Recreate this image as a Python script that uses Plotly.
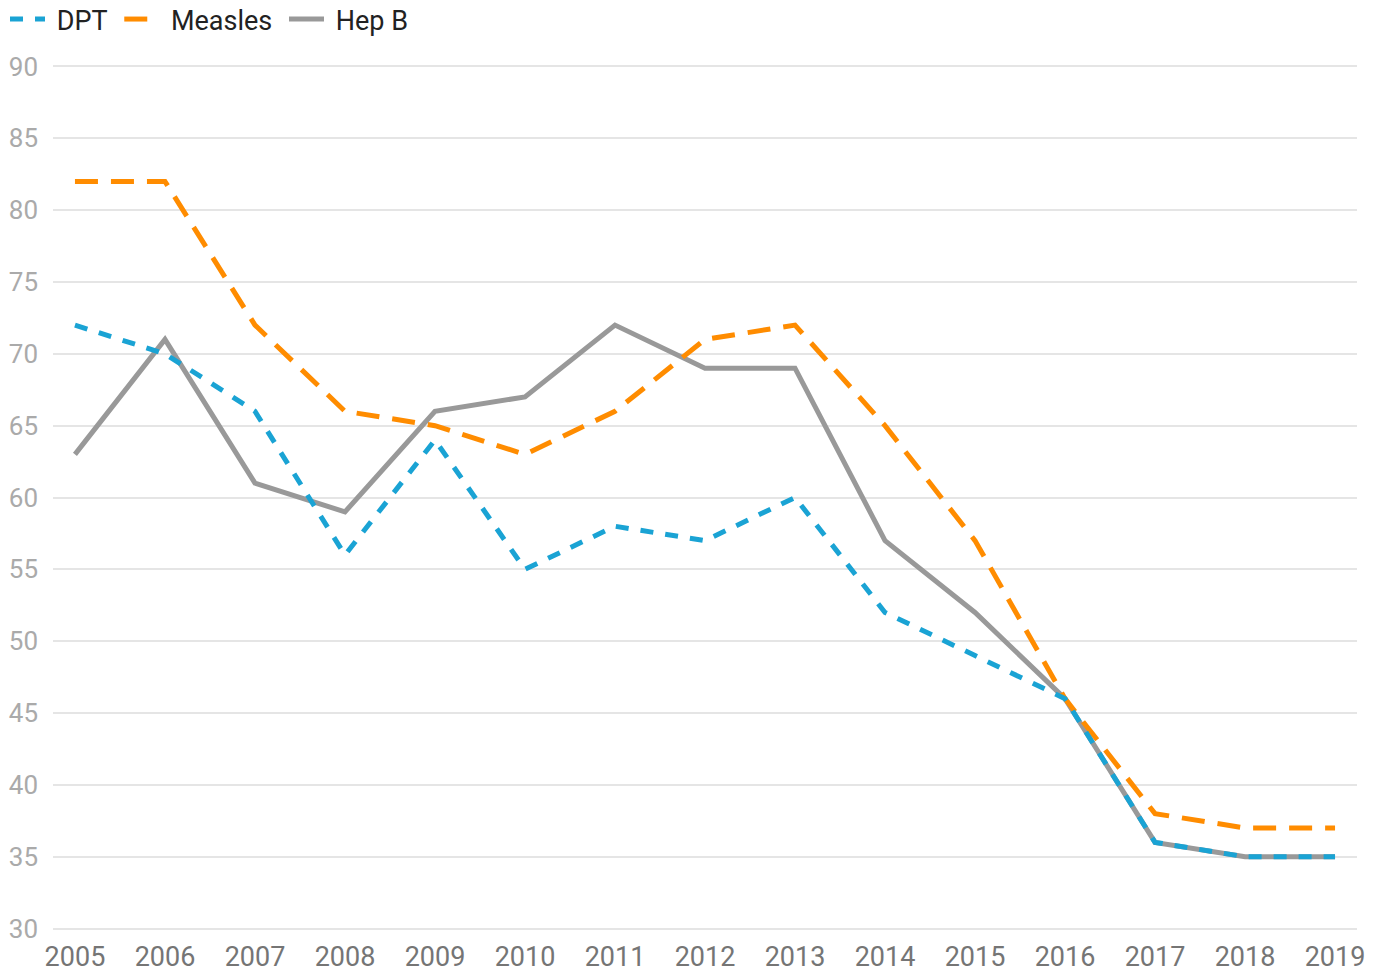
import plotly.graph_objects as go

years = list(range(2005, 2020))
dpt = [72, 70, 66, 56, 64, 55, 58, 57, 60, 52, 49, 46, 36, 35, 35]
measles = [82, 82, 72, 66, 65, 63, 66, 71, 72, 65, 57, 46, 38, 37, 37]
hep_b = [63, 71, 61, 59, 66, 67, 72, 69, 69, 57, 52, 46, 36, 35, 35]
y_ticks = list(range(30, 95, 5))

# non-breaking spaces pad the legend entries apart
NB = "\u00a0"

fig = go.Figure()
fig.add_trace(go.Scatter(x=years, y=hep_b, name=NB + "Hep B" + NB, mode="lines",
                         line=dict(color="#999999", width=5)))
fig.add_trace(go.Scatter(x=years, y=measles, name=NB + "Measles" + NB, mode="lines",
                         line=dict(color="#FF8C00", width=5, dash="23px,13px")))
fig.add_trace(go.Scatter(x=years, y=dpt, name=NB + "DPT" + NB, mode="lines",
                         line=dict(color="#1AA3D4", width=5, dash="13px,12px")))

# plot area: 1304 x 865 px; legend sits in the top-left corner above it
PLOT_H = 865
TOP = 65
fig.update_layout(
    width=1382, height=971,
    margin=dict(l=53, r=25, t=TOP, b=41, autoexpand=False),
    paper_bgcolor="white", plot_bgcolor="white",
    font=dict(family="Roboto", size=27, color="#222222"),
    legend=dict(orientation="h", traceorder="reversed",
                xref="paper", yref="paper",
                x=(5 - 53) / 1304, y=1 + (TOP + 5) / PLOT_H,
                xanchor="left", yanchor="top",
                bgcolor="rgba(0,0,0,0)",
                font=dict(size=27, color="#222222"), itemwidth=35),
    showlegend=True,
)
fig.update_xaxes(range=[2004.756, 2019.244], tickvals=years,
                 showgrid=False, zeroline=False, showline=False,
                 tickfont=dict(size=27, color="#757575"), ticks="",
                 ticklabelstandoff=8)
fig.update_yaxes(range=[29.9, 90.1], tickvals=y_ticks,
                 showgrid=True, gridcolor="#E5E5E5", gridwidth=2,
                 zeroline=False, showline=False,
                 tickfont=dict(size=26, color="#AAAAAA"), ticks="",
                 ticklabelstandoff=14)

fig.write_html("out.html")
